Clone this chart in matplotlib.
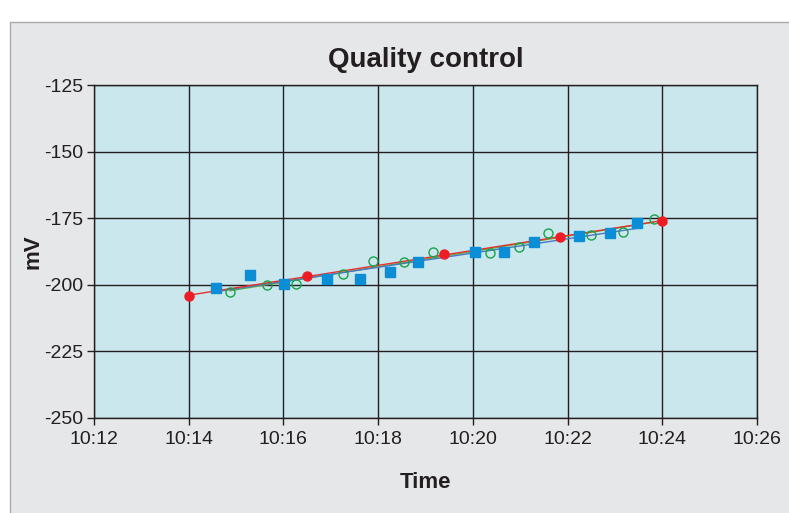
import numpy as np
import matplotlib
matplotlib.use("Agg")
import matplotlib.pyplot as plt
from matplotlib.patches import Rectangle

plt.rcParams['font.family'] = ['Liberation Sans', 'DejaVu Sans']

# minutes after 10:00, readings in mV
red_x = [14.0, 16.5, 19.4, 21.85, 24.0]
red_y = [-204.2, -196.7, -188.4, -182.1, -176.0]

blue_x = [14.57, 15.29, 16.01, 16.91, 17.62, 18.24, 18.85, 20.04, 20.65, 21.30, 22.25, 22.90, 23.47]
blue_y = [-201.1, -196.3, -199.6, -197.7, -197.8, -195.3, -191.3, -187.6, -187.6, -183.8, -181.6, -180.4, -176.7]

green_x = [14.87, 15.66, 16.27, 17.25, 17.90, 18.54, 19.16, 20.36, 20.97, 21.58, 22.49, 23.16, 23.82]
green_y = [-202.7, -200.1, -199.6, -196.1, -191.1, -191.3, -187.6, -188.0, -185.9, -180.7, -181.3, -180.3, -175.4]

x_ticks = [12, 14, 16, 18, 20, 22, 24, 26]
x_labels = ['10:12', '10:14', '10:16', '10:18', '10:20', '10:22', '10:24', '10:26']
y_ticks = [-250, -225, -200, -175, -150, -125]
y_labels = ['-250', '-225', '-200', '-175', '-150', '-125']

fig = plt.figure(figsize=(7.89, 5.13), dpi=100)
fig.patch.set_facecolor('white')
fig.patches.append(Rectangle((10 / 789, -0.01), 1.0, (513 - 22) / 513 + 0.01,
                             transform=fig.transFigure, facecolor='#e6e7e8',
                             edgecolor='#a7a9ac', linewidth=1.0, zorder=-10))

ax = fig.add_axes([94 / 789, 1 - 418 / 513, (757 - 94) / 789, (418 - 85) / 513])
ax.set_facecolor('#cbe7ee')


def trend(xs, ys, color):
    k, b = np.polyfit(xs, ys, 1)
    xx = np.array([min(xs), max(xs)])
    ax.plot(xx, k * xx + b, color=color, lw=1.0, zorder=3)


trend(green_x, green_y, '#5fae3e')
trend(blue_x, blue_y, '#4a78c4')
trend(red_x, red_y, '#e8302c')

ax.plot(blue_x, blue_y, 's', color='#0a8ed8', markersize=6.5, mec='#0a8ed8', zorder=4)
ax.plot(green_x, green_y, 'o', mfc='none', mec='#17a34a', markersize=6.5, mew=1.0, zorder=4)
ax.plot(red_x, red_y, 'o', color='#ee1c25', markersize=6.5, zorder=5)

ax.set_xlim(12, 26)
ax.set_ylim(-250, -125)
ax.set_xticks(x_ticks)
ax.set_xticklabels(x_labels, fontsize=14)
ax.set_yticks(y_ticks)
ax.set_yticklabels(y_labels, fontsize=14)
ax.tick_params(direction='out', length=5, width=1, color='#231f20', labelcolor='#231f20')
ax.tick_params(axis='x', pad=4)
ax.tick_params(axis='y', pad=3)
ax.grid(True, color='#231f20', linewidth=1.0)
ax.set_axisbelow(True)
for s in ax.spines.values():
    s.set_color('#231f20')
    s.set_linewidth(1.0)

ax.set_title('Quality control', fontsize=20, fontweight='bold', color='#231f20', pad=13)
ax.set_xlabel('Time', fontsize=16, fontweight='bold', color='#231f20', labelpad=18)
ax.set_ylabel('mV', fontsize=16, fontweight='bold', color='#231f20', labelpad=0)

fig.savefig('out.png', dpi=100)
